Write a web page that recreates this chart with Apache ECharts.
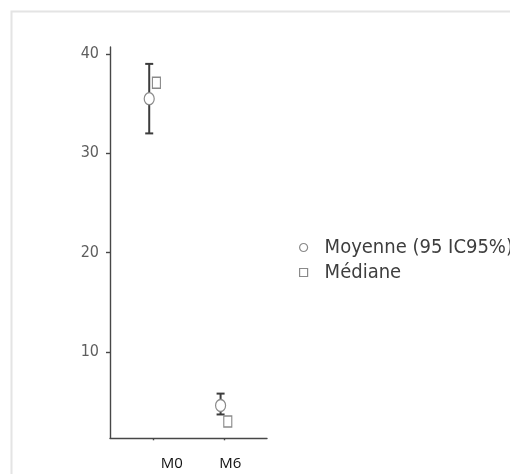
<!DOCTYPE html>
<html>
<head>
<meta charset="utf-8">
<script src="https://cdn.jsdelivr.net/npm/echarts@6/dist/echarts.min.js"></script>
<style>
  html, body { margin: 0; padding: 0; background: #fff; }
  #chart { width: 510px; height: 474px; }
</style>
</head>
<body>
<div id="chart"></div>
<script>
// Visits and summary statistics
var categories = ['M0', 'M6'];
var meanValues = [35.5, 4.6];
var ciLower = [32.0, 3.7];
var ciUpper = [39.0, 5.8];
var medianValues = [37.1, 3.0];
var yTicks = [10, 20, 30, 40];
var seriesNames = ['Moyenne (95 IC95%)', 'Médiane'];

var chart = echarts.init(document.getElementById('chart'));

var dodge = 3.6; // px shift of mean (left) and median (right) around each visit
var catIdx = categories.map(function (c, i) { return i; });

var errData = catIdx.map(function (i) { return [i, ciLower[i], ciUpper[i]]; });
var meanData = catIdx.map(function (i) { return [i, meanValues[i]]; });
var medData = catIdx.map(function (i) { return [i, medianValues[i]]; });

var tickFont = "'DejaVu Sans Condensed', 'DejaVu Sans', sans-serif";

chart.setOption({
  animation: false,
  backgroundColor: '#ffffff',
  graphic: [{
    type: 'rect',
    shape: { x: 11.5, y: 11.5, width: 700, height: 700 },
    style: { fill: 'none', stroke: '#e4e4e4', lineWidth: 2 },
    silent: true,
    z: -10
  }],
  grid: { left: 110, right: 243, top: 47, bottom: 35.7, containLabel: false },
  xAxis: {
    type: 'value',
    min: -0.6,
    max: 1.6,
    splitLine: { show: false },
    axisLine: { show: true, onZero: false, lineStyle: { color: '#474747', width: 1.4 } },
    axisTick: {
      show: true, length: 2, customValues: catIdx,
      lineStyle: { color: '#474747', width: 1.4 }
    },
    axisLabel: {
      show: true,
      customValues: catIdx,
      margin: 18,
      fontFamily: "'Open Sans', sans-serif",
      fontSize: 15,
      color: '#111',
      formatter: function (v) {
        var i = Math.round(v);
        return '{c' + i + '|' + categories[i] + '}';
      },
      rich: {
        c0: { fontFamily: "'Open Sans', sans-serif", fontSize: 15, color: '#111', padding: [0, 0, 0, 38] },
        c1: { fontFamily: "'Open Sans', sans-serif", fontSize: 15, color: '#111', padding: [0, 0, 0, 12] }
      }
    }
  },
  yAxis: {
    type: 'value',
    min: 1.3,
    max: 40.7,
    splitLine: { show: false },
    axisLine: { show: true, onZero: false, lineStyle: { color: '#474747', width: 1.4 } },
    axisTick: {
      show: true, length: 4, customValues: yTicks,
      lineStyle: { color: '#474747', width: 1.4 }
    },
    axisLabel: {
      show: true,
      customValues: yTicks,
      margin: 11,
      fontFamily: tickFont,
      fontSize: 16,
      color: '#5e5e5e'
    }
  },
  legend: {
    orient: 'vertical',
    left: 294,
    top: 232,
    itemWidth: 8,
    itemHeight: 8,
    itemGap: 4,
    selectedMode: false,
    textStyle: {
      fontFamily: tickFont,
      fontSize: 20,
      lineHeight: 21,
      color: '#3e3e3e',
      padding: [0, 0, 0, 12]
    },
    itemStyle: { color: '#ffffff', borderColor: '#8a8a8a', borderWidth: 1.2 },
    data: [
      { name: seriesNames[0], icon: 'circle' },
      { name: seriesNames[1], icon: 'rect' }
    ]
  },
  series: [
    {
      type: 'custom',
      name: 'IC95',
      data: errData,
      z: 2,
      renderItem: function (params, api) {
        var lo = api.coord([api.value(0), api.value(1)]);
        var hi = api.coord([api.value(0), api.value(2)]);
        var x = lo[0] - dodge;
        var cap = 4;
        var style = { stroke: '#3c3c3c', lineWidth: 2, fill: null };
        return {
          type: 'group',
          children: [
            { type: 'line', shape: { x1: x, y1: lo[1], x2: x, y2: hi[1] }, style: style },
            { type: 'line', shape: { x1: x - cap, y1: lo[1], x2: x + cap, y2: lo[1] }, style: style },
            { type: 'line', shape: { x1: x - cap, y1: hi[1], x2: x + cap, y2: hi[1] }, style: style }
          ]
        };
      }
    },
    {
      type: 'scatter',
      name: seriesNames[0],
      data: meanData,
      z: 3,
      symbol: 'circle',
      symbolSize: [10, 12],
      symbolOffset: [-dodge, 0],
      itemStyle: { color: '#ffffff', borderColor: '#8a8a8a', borderWidth: 1.3, opacity: 1 }
    },
    {
      type: 'scatter',
      name: seriesNames[1],
      data: medData,
      z: 3,
      symbol: 'rect',
      symbolSize: [8, 11],
      symbolOffset: [dodge, 0],
      itemStyle: { color: '#ffffff', borderColor: '#8a8a8a', borderWidth: 1.3, opacity: 1 }
    }
  ]
});
</script>
</body>
</html>
